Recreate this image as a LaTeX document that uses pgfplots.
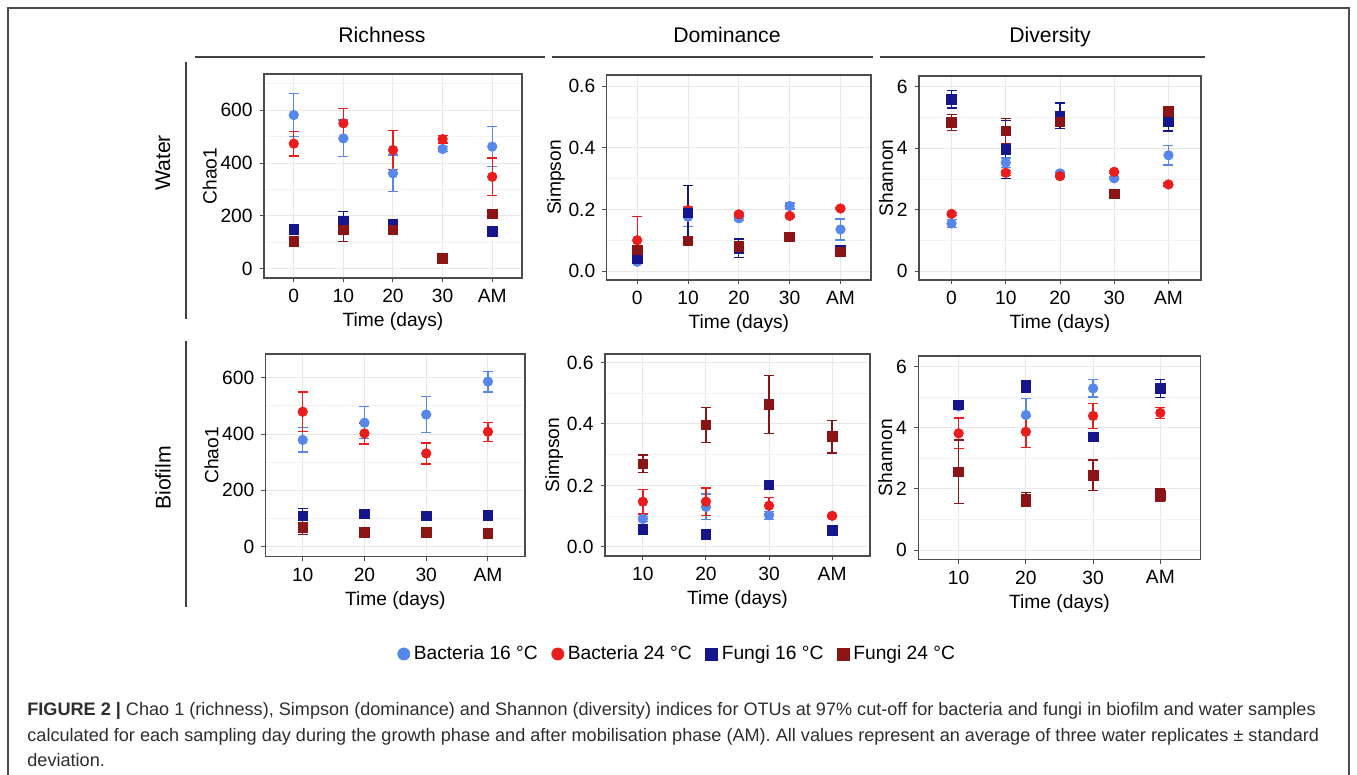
\documentclass[border=0pt]{standalone}
\usepackage{fontspec}
\setmainfont{Liberation Sans}
\usepackage{pgfplots}
\pgfplotsset{compat=1.18}

\definecolor{bsix}{RGB}{88,135,235}
\definecolor{btwf}{RGB}{235,28,28}
\definecolor{fsix}{RGB}{22,22,140}
\definecolor{ftwf}{RGB}{138,20,22}
\definecolor{capt}{RGB}{45,45,45}

\newcommand\tk{\fontsize{9.6}{11}\selectfont}
\newcommand\st{\fontsize{10.6}{12}\selectfont}

\pgfplotsset{
  pan/.style={
    scale only axis, anchor=north west,
    axis line style={draw=black!70,line width=0.6pt},
    grid=both,
    major grid style={draw=black!9,line width=0.5pt},
    minor grid style={draw=black!5,line width=0.35pt},
    tick align=outside, tick pos=left,
    major tick length=2.2pt, minor tick length=0pt,
    tick style={draw=black!70,line width=0.5pt},
    ticklabel style={font=\tk},
    label style={font=\tk},
    xlabel={Time (days)}, xlabel shift=-2pt, ylabel shift=-5pt,
    xmin=0.4,
    clip=false,
    error bars/y dir=both, error bars/y explicit,
    error bars/error mark options={rotate=90,mark size=2.5pt,line width=0.65pt},
    error bars/error bar style={line width=0.65pt},
  },
  top/.style={xmax=5.6, xtick={1,2,3,4,5}, xticklabels={0,10,20,30,AM}},
  bot/.style={xmax=4.6, xtick={1,2,3,4}, xticklabels={10,20,30,AM}},
  chao/.style={ylabel={Chao1}, ytick={0,200,400,600}, yticklabels={0,200,400,600}, minor ytick={100,300,500,700}},
  simp/.style={ylabel={Simpson}, ytick={0,0.2,0.4,0.6}, yticklabels={0.0,0.2,0.4,0.6}, minor ytick={0.1,0.3,0.5}},
  shan/.style={ylabel={Shannon}, ytick={0,2,4,6}, yticklabels={0,2,4,6}, minor ytick={1,3,5}},
  sb16/.style={only marks, mark=*, mark size=2.35pt, color=bsix, mark options={draw=bsix,fill=bsix}},
  sb24/.style={only marks, mark=*, mark size=2.35pt, color=btwf, mark options={draw=btwf,fill=btwf}},
  sf16/.style={only marks, mark=square*, mark size=2.4pt, color=fsix, mark options={draw=fsix,fill=fsix}},
  sf24/.style={only marks, mark=square*, mark size=2.4pt, color=ftwf, mark options={draw=ftwf,fill=ftwf}},
}

\begin{document}
\begin{tikzpicture}
% layout in reference pixels (0.5pt each, y downwards)
\begin{scope}[x=0.5pt,y=-0.5pt]
  \path[use as bounding box] (0,0) rectangle (1357,775);
  \draw[black!70,line width=0.6pt] (8,776) -- (8,8) -- (1349,8) -- (1349,776);
  \draw[black!75,line width=0.8pt] (195,57) -- (545,57);
  \draw[black!75,line width=0.8pt] (552,57) -- (873,57);
  \draw[black!75,line width=0.8pt] (880,57) -- (1205,57);
  \node[font=\st,anchor=base] at (382,43) {Richness};
  \node[font=\st,anchor=base] at (727,43) {Dominance};
  \node[font=\st,anchor=base] at (1050,43) {Diversity};
  \draw[black!75,line width=0.8pt] (186,62) -- (186,319);
  \draw[black!75,line width=0.8pt] (186,341) -- (186,607);
  \node[font=\st,rotate=90] at (163,163) {Water};
  \node[font=\st,rotate=90] at (163,478) {Biofilm};
  \node[anchor=base west,font=\fontsize{9.05}{10}\selectfont,text=capt,inner sep=0pt] at (27,715)
    {\textbf{FIGURE 2 |} Chao 1 (richness), Simpson (dominance) and Shannon (diversity) indices for OTUs at 97\% cut-off for bacteria and fungi in biofilm and water samples};
  \node[anchor=base west,font=\fontsize{9.05}{10}\selectfont,text=capt,inner sep=0pt] at (27,741)
    {calculated for each sampling day during the growth phase and after mobilisation phase (AM). All values represent an average of three water replicates ± standard};
  \node[anchor=base west,font=\fontsize{9.05}{10}\selectfont,text=capt,inner sep=0pt] at (27,767)
    {deviation.};
\end{scope}

% ---------- Water: Chao1
\begin{axis}[pan, top, chao, at={(132pt,-37pt)}, width=129pt, height=102pt, ymin=-34, ymax=736]
  \addplot[sb16] coordinates {(1,581) +- (0,82) (2,493) +- (0,69) (3,361) +- (0,69) (4,453) +- (0,10) (5,462) +- (0,75)};
  \addplot[sb24] coordinates {(1,473) +- (0,47) (2,550) +- (0,57) (3,449) +- (0,73) (4,490) +- (0,15) (5,348) +- (0,71)};
  \addplot[sf16] coordinates {(1,150) +- (0,6) (2,179) +- (0,37) (3,168) +- (0,10) (5,141) +- (0,5)};
  \addplot[sf24] coordinates {(1,103) +- (0,5) (2,147) +- (0,44) (3,147) +- (0,10) (4,40) +- (0,5) (5,208) +- (0,12)};
\end{axis}

% ---------- Water: Simpson
\begin{axis}[pan, top, simp, at={(303.35pt,-37.5pt)}, width=132.15pt, height=102.5pt, ymin=-0.029, ymax=0.636]
  \addplot[sb16] coordinates {(1,0.030) +- (0,0.005) (2,0.176) +- (0,0.032) (3,0.171) +- (0,0.008) (4,0.211) +- (0,0.010) (5,0.135) +- (0,0.034)};
  \addplot[sb24] coordinates {(1,0.100) +- (0,0.076) (2,0.198) +- (0,0.005) (3,0.184) +- (0,0.005) (4,0.179) +- (0,0.004) (5,0.203) +- (0,0.004)};
  \addplot[sf16] coordinates {(1,0.041) +- (0,0.005) (2,0.189) +- (0,0.088) (3,0.074) +- (0,0.030) (5,0.068) +- (0,0.004)};
  \addplot[sf24] coordinates {(1,0.068) +- (0,0.005) (2,0.098) +- (0,0.005) (3,0.079) +- (0,0.008) (4,0.111) +- (0,0.005) (5,0.062) +- (0,0.004)};
\end{axis}

% ---------- Water: Shannon
\begin{axis}[pan, top, shan, at={(459.5pt,-38pt)}, width=141pt, height=102pt, ymin=-0.29, ymax=6.35]
  \addplot[sb16] coordinates {(1,1.55) +- (0,0.13) (2,3.53) +- (0,0.15) (3,3.18) +- (0,0.05) (4,3.02) +- (0,0.05) (5,3.77) +- (0,0.32)};
  \addplot[sb24] coordinates {(1,1.86) +- (0,0.05) (2,3.20) +- (0,0.08) (3,3.09) +- (0,0.05) (4,3.23) +- (0,0.05) (5,2.82) +- (0,0.05)};
  \addplot[sf16] coordinates {(1,5.59) +- (0,0.28) (2,3.96) +- (0,0.95) (3,5.05) +- (0,0.42) (5,4.86) +- (0,0.30)};
  \addplot[sf24] coordinates {(1,4.83) +- (0,0.26) (2,4.56) +- (0,0.40) (3,4.86) +- (0,0.10) (4,2.51) +- (0,0.05) (5,5.19) +- (0,0.10)};
\end{axis}

% ---------- Biofilm: Chao1
\begin{axis}[pan, bot, chao, at={(132.85pt,-177pt)}, width=129.65pt, height=101.35pt, ymin=-35.5, ymax=684]
  \addplot[sb16] coordinates {(1,379) +- (0,43) (2,440) +- (0,57) (3,469) +- (0,63) (4,586) +- (0,37)};
  \addplot[sb24] coordinates {(1,479) +- (0,70) (2,402) +- (0,37) (3,331) +- (0,37) (4,408) +- (0,34)};
  \addplot[sf16] coordinates {(1,109) +- (0,27) (2,116) +- (0,5) (3,110) +- (0,5) (4,112) +- (0,5)};
  \addplot[sf24] coordinates {(1,69) +- (0,25) (2,50) +- (0,4) (3,50) +- (0,4) (4,47) +- (0,4)};
\end{axis}

% ---------- Biofilm: Simpson (carries the legend)
\begin{axis}[pan, bot, simp, at={(302.5pt,-177pt)}, width=132.5pt, height=101pt, ymin=-0.030, ymax=0.628,
    legend columns=4,
    legend style={at={(0.277,-0.485)}, anchor=center, draw=none, fill=none, font=\tk,
                  /tikz/every even column/.append style={column sep=5pt}},
    legend image post style={mark size=3pt},
    legend cell align=left]
  \addplot[sb16] coordinates {(1,0.091) +- (0,0.008) (2,0.130) +- (0,0.042) (3,0.103) +- (0,0.013) (4,0.052) +- (0,0.005)};
  \addplot[sb24] coordinates {(1,0.147) +- (0,0.040) (2,0.147) +- (0,0.045) (3,0.134) +- (0,0.027) (4,0.101) +- (0,0.004)};
  \addplot[sf16] coordinates {(1,0.057) +- (0,0.006) (2,0.040) +- (0,0.003) (3,0.201) +- (0,0.004) (4,0.054) +- (0,0.006)};
  \addplot[sf24] coordinates {(1,0.270) +- (0,0.029) (2,0.397) +- (0,0.057) (3,0.464) +- (0,0.094) (4,0.359) +- (0,0.053)};
  \legend{Bacteria 16 °C, Bacteria 24 °C, Fungi 16 °C, Fungi 24 °C}
\end{axis}

% ---------- Biofilm: Shannon
\begin{axis}[pan, bot, shan, at={(459.15pt,-178pt)}, width=141.2pt, height=101.65pt, ymin=-0.30, ymax=6.35]
  \addplot[sb16] coordinates {(1,4.70) +- (0,0.05) (2,4.42) +- (0,0.55) (3,5.29) +- (0,0.28) (4,5.30) +- (0,0.05)};
  \addplot[sb24] coordinates {(1,3.82) +- (0,0.50) (2,3.87) +- (0,0.51) (3,4.39) +- (0,0.41) (4,4.49) +- (0,0.18)};
  \addplot[sf16] coordinates {(1,4.75) +- (0,0.08) (2,5.35) +- (0,0.20) (3,3.71) +- (0,0.05) (4,5.29) +- (0,0.29)};
  \addplot[sf24] coordinates {(1,2.56) +- (0,1.04) (2,1.66) +- (0,0.22) (3,2.45) +- (0,0.50) (4,1.80) +- (0,0.20)};
\end{axis}
\end{tikzpicture}
\end{document}
